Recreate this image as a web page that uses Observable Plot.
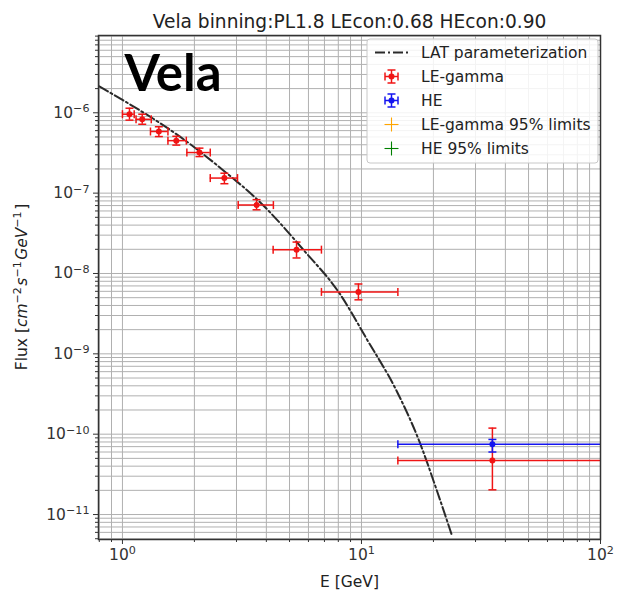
<!DOCTYPE html>
<html>
<head>
<meta charset="utf-8">
<script src="https://cdn.jsdelivr.net/npm/d3@7"></script>
<script src="https://cdn.jsdelivr.net/npm/@observablehq/plot@0.6"></script>
<style>
  body { margin: 0; background: #fff; }
  #chart { width: 618px; height: 596px; }
</style>
</head>
<body>
<div id="chart"></div>
<script>
// LE-gamma spectral points: bin centre, bin edges, flux and 1-sigma range
const leE    = [1.07, 1.21, 1.42, 1.68, 2.10, 2.67, 3.64, 5.35, 9.71, 35.3];
const leElo  = [1.00, 1.14, 1.31, 1.55, 1.86, 2.33, 3.05, 4.27, 6.80, 14.2];
const leEhi  = [1.12, 1.32, 1.55, 1.85, 2.33, 3.03, 4.28, 6.80, 14.2, 150];
const leF    = [9.6e-7, 8.3e-7, 5.85e-7, 4.5e-7, 3.2e-7, 1.54e-7, 7.1e-8, 1.98e-8, 5.9e-9, 4.7e-11];
const leFlo  = [8.1e-7, 7.2e-7, 5.06e-7, 3.96e-7, 2.85e-7, 1.31e-7, 6.2e-8, 1.56e-8, 4.7e-9, 2.03e-11];
const leFhi  = [1.14e-6, 9.6e-7, 6.7e-7, 5.1e-7, 3.63e-7, 1.77e-7, 8.3e-8, 2.46e-8, 7.4e-9, 1.19e-10];

// HE spectral point
const heE   = [35.3];
const heElo = [14.2];
const heEhi = [150];
const heF   = [7.5e-11];
const heFlo = [6.0e-11];
const heFhi = [8.6e-11];

// LAT parameterization sampled along the curve
const latE = [0.80, 1.92, 2.66, 3.67, 5.76, 8.08, 10.6, 14.0, 17.5, 20.6, 24.0];
const latF = [2.13e-6, 4.07e-7, 1.89e-7, 8.3e-8, 1.92e-8, 5.7e-9, 1.47e-9, 3.5e-10, 8.0e-11, 2.05e-11, 5.3e-12];

// Axis ticks
const xMajor = [1, 10, 100];
const yMajor = [1e-11, 1e-10, 1e-9, 1e-8, 1e-7, 1e-6];
const xDomain = [0.794, 100];
const yDomain = [4.89e-12, 9.16e-6];

// Legend entries
const legendLabels = ["LAT parameterization", "LE-gamma", "HE", "LE-gamma 95% limits", "HE 95% limits"];
const legendKinds  = ["line", "errorbar", "errorbar", "plus", "plus"];

const RED = "#f01414", BLUE = "#1414f0", ORANGE = "#ffa500", GREEN = "#008000";

const title = "Vela binning:PL1.8 LEcon:0.68 HEcon:0.90";

function minorTicks(domain, d0, d1) {
  const out = [];
  for (let p = d0; p <= d1; p++) {
    for (let k = 2; k <= 9; k++) {
      const v = k * Math.pow(10, p);
      if (v >= domain[0] && v <= domain[1]) out.push(v);
    }
  }
  return out;
}
const xMinor = minorTicks(xDomain, -1, 1);
const yMinor = minorTicks(yDomain, -12, -6);

const rows = (E, Elo, Ehi, F, Flo, Fhi) =>
  E.map((e, i) => ({E: e, Elo: Elo[i], Ehi: Ehi[i], F: F[i], Flo: Flo[i], Fhi: Fhi[i]}));
const leRows = rows(leE, leElo, leEhi, leF, leFlo, leFhi);
const heRows = rows(heE, heElo, heEhi, heF, heFlo, heFhi);
const latRows = latE.map((e, i) => ({E: e, F: latF[i]}));

// Error-bar caps as custom symbols (half-length = r)
const capV = {draw(ctx, size) { const r = Math.sqrt(size / Math.PI); ctx.moveTo(0, -r); ctx.lineTo(0, r); }};
const capH = {draw(ctx, size) { const r = Math.sqrt(size / Math.PI); ctx.moveTo(-r, 0); ctx.lineTo(r, 0); }};

function errorbars(data, color) {
  const s = {stroke: color, strokeWidth: 1.5, clip: true};
  return [
    Plot.ruleY(data, {y: "F", x1: "Elo", x2: "Ehi", ...s}),
    Plot.ruleX(data, {x: "E", y1: "Flo", y2: "Fhi", ...s}),
    Plot.dot(data, {x: "Elo", y: "F", symbol: capV, r: 4, fill: "none", ...s}),
    Plot.dot(data, {x: "Ehi", y: "F", symbol: capV, r: 4, fill: "none", ...s}),
    Plot.dot(data, {x: "E", y: "Flo", symbol: capH, r: 4, fill: "none", ...s}),
    Plot.dot(data, {x: "E", y: "Fhi", symbol: capH, r: 4, fill: "none", ...s}),
    Plot.dot(data, {x: "E", y: "F", r: 3, fill: color, stroke: "none", clip: true})
  ];
}

const expLabel = d => "10^" + Math.round(Math.log10(d));
const FS = 15.5;
const DASH = "10,3,2,3";

const chart = Plot.plot({
  width: 618,
  height: 596,
  marginLeft: 98,
  marginRight: 18,
  marginTop: 35,
  marginBottom: 57,
  style: {fontFamily: "DejaVu Sans", fontSize: FS + "px", color: "#333", background: "white"},
  x: {type: "log", domain: xDomain},
  y: {type: "log", domain: yDomain},
  marks: [
    Plot.ruleX([...xMajor, ...xMinor], {stroke: "#b0b0b0", strokeWidth: 1}),
    Plot.ruleY([...yMajor, ...yMinor], {stroke: "#b0b0b0", strokeWidth: 1}),
    Plot.axisX({ticks: xMajor, tickSize: 5, tickPadding: 4, tickFormat: expLabel, label: null, fontSize: FS}),
    Plot.axisX({ticks: xMinor, tickSize: 3, tickFormat: () => "", label: null}),
    Plot.axisY({ticks: yMajor, tickSize: 5, tickPadding: 4, tickFormat: expLabel, label: null, fontSize: FS}),
    Plot.axisY({ticks: yMinor, tickSize: 3, tickFormat: () => "", label: null}),
    Plot.line(latRows, {x: "E", y: "F", stroke: "#2a2a2a", strokeWidth: 2, strokeDasharray: DASH, curve: "monotone-x", clip: true}),
    ...errorbars(leRows, RED),
    ...errorbars(heRows, BLUE),
    Plot.frame({stroke: "#333", strokeWidth: 1.5}),
    Plot.text([title], {frameAnchor: "top", dy: -21, fontSize: 18.6, fill: "#222"}),
    Plot.text(["E [GeV]"], {frameAnchor: "bottom", dy: 47, fontSize: FS, fill: "#222"}),
    Plot.text(["Vela"], {frameAnchor: "top-left", dx: 26, dy: 19, textAnchor: "start", lineAnchor: "top",
      fontSize: 51, fontWeight: "bold", fontFamily: "Lato", fill: "black"})
  ]
});

document.getElementById("chart").appendChild(chart);
const svg = d3.select(chart);

// Exponent labels: "10^e" -> 10 with a raised exponent
svg.selectAll("text").each(function () {
  const t = this.textContent;
  if (!/^10\^-?\d+$/.test(t)) return;
  const [base, exp] = t.split("^");
  const sel = d3.select(this);
  sel.text(null);
  sel.append("tspan").text(base);
  sel.append("tspan").attr("dy", "-0.5em").attr("font-size", "0.72em").text(exp.replace("-", "\u2212"));
});

// Y-axis title with math-style units
const yl = svg.append("text")
  .attr("transform", "translate(27,287) rotate(-90)")
  .attr("text-anchor", "middle")
  .attr("font-family", "DejaVu Sans")
  .attr("font-size", FS)
  .attr("fill", "#222");
yl.append("tspan").text("Flux [");
[["cm", "\u22122"], ["s", "\u22121"], ["GeV", "\u22121"]].forEach(([u, e]) => {
  yl.append("tspan").attr("font-style", "italic").text(u);
  yl.append("tspan").attr("dy", -6).attr("font-size", 11).text(e);
  yl.append("tspan").attr("dy", 6).attr("font-size", FS).text("\u200a");
});
yl.append("tspan").text("]");

// Legend
const lg = svg.append("g").attr("font-family", "DejaVu Sans").attr("font-size", FS);
lg.append("rect").attr("x", 367).attr("y", 39).attr("width", 231).attr("height", 124)
  .attr("rx", 3).attr("fill", "white").attr("fill-opacity", 0.85).attr("stroke", "#c8c8c8");
const legendColors = ["#2a2a2a", RED, BLUE, ORANGE, GREEN];
legendLabels.forEach((label, i) => {
  const cy = 52.5 + i * 24;
  const cx = 391.5;
  const c = legendColors[i];
  const kind = legendKinds[i];
  if (kind === "line") {
    lg.append("line").attr("x1", 375).attr("x2", 408).attr("y1", cy).attr("y2", cy)
      .attr("stroke", c).attr("stroke-width", 2).attr("stroke-dasharray", DASH);
  } else {
    const h = kind === "errorbar" ? 6.5 : 7;
    const w = kind === "errorbar" ? 1.5 : 1.1;
    lg.append("line").attr("x1", cx - h).attr("x2", cx + h).attr("y1", cy).attr("y2", cy).attr("stroke", c).attr("stroke-width", w);
    lg.append("line").attr("x1", cx).attr("x2", cx).attr("y1", cy - h).attr("y2", cy + h).attr("stroke", c).attr("stroke-width", w);
    if (kind === "errorbar") {
      [[cx - h, cy - 4, cx - h, cy + 4], [cx + h, cy - 4, cx + h, cy + 4],
       [cx - 4, cy - h, cx + 4, cy - h], [cx - 4, cy + h, cx + 4, cy + h]].forEach(([a, b, d, e]) =>
        lg.append("line").attr("x1", a).attr("y1", b).attr("x2", d).attr("y2", e).attr("stroke", c).attr("stroke-width", w));
      lg.append("circle").attr("cx", cx).attr("cy", cy).attr("r", 3).attr("fill", c);
    }
  }
  lg.append("text").attr("x", 421).attr("y", cy).attr("dy", "0.35em").attr("text-anchor", "start")
    .attr("fill", "#222").text(label);
});
</script>
</body>
</html>
